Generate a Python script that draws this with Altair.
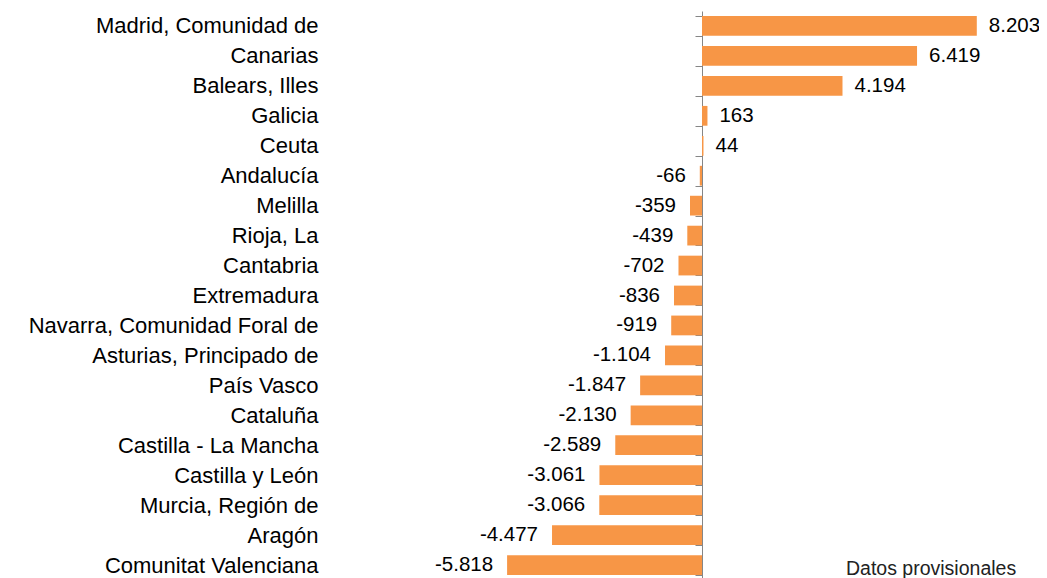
import altair as alt
import pandas as pd

regions = [
    "Madrid, Comunidad de", "Canarias", "Balears, Illes", "Galicia", "Ceuta",
    "Andalucía", "Melilla", "Rioja, La", "Cantabria", "Extremadura",
    "Navarra, Comunidad Foral de", "Asturias, Principado de", "País Vasco",
    "Cataluña", "Castilla - La Mancha", "Castilla y León", "Murcia, Región de",
    "Aragón", "Comunitat Valenciana",
]
values = [8203, 6419, 4194, 163, 44, -66, -359, -439, -702, -836, -919,
          -1104, -1847, -2130, -2589, -3061, -3066, -4477, -5818]
note = "Datos provisionales"

df = pd.DataFrame({"region": regions, "value": values})
df["label"] = [f"{v:,}".replace(",", ".") for v in values]

PLOT_W = 700
PLOT_H = 569
ZERO_PX = 372
K = 0.0335
x_lo = -ZERO_PX / K
x_hi = (PLOT_W - ZERO_PX) / K
FONT = "Liberation Sans"
ORANGE = "#F79646"
GREY = "#868686"
FS = 22
VFS = 20.5

x = alt.X("value:Q", scale=alt.Scale(domain=[x_lo, x_hi], nice=False, zero=False), axis=None)
y = alt.Y(
    "region:N",
    sort=regions,
    scale=alt.Scale(paddingInner=0.34, paddingOuter=0.17),
    axis=alt.Axis(
        orient="left", offset=-ZERO_PX, title=None,
        domain=True, domainColor=GREY, domainWidth=1,
        ticks=True, tickBand="extent", tickSize=7, tickColor=GREY, tickWidth=1,
        labelPadding=377, labelFontSize=FS, labelFont=FONT, labelColor="black",
        labelLimit=0, grid=False,
    ),
)

bars = alt.Chart(df).mark_bar(color=ORANGE).encode(x=x, y=y, x2=alt.datum(0))

pos = alt.Chart(df).transform_filter("datum.value >= 0").mark_text(
    align="left", baseline="middle", dx=12, fontSize=VFS, font=FONT, color="black"
).encode(x=x, y=alt.Y("region:N", sort=regions), text="label:N")

neg = alt.Chart(df).transform_filter("datum.value < 0").mark_text(
    align="right", baseline="middle", dx=-14, fontSize=VFS, font=FONT, color="black"
).encode(x=x, y=alt.Y("region:N", sort=regions), text="label:N")

note_layer = alt.Chart(pd.DataFrame({"t": [note]})).mark_text(
    align="left", baseline="alphabetic", fontSize=19.5, font=FONT, color="#222222"
).encode(x=alt.value(516), y=alt.value(564), text="t:N")

chart = alt.layer(bars, pos, neg, note_layer).properties(
    width=PLOT_W, height=PLOT_H,
    autosize=alt.AutoSizeParams(type="none"),
    padding={"left": 322, "top": 3, "right": 9, "bottom": 0},
).configure_view(stroke=None)

chart.save("out.html", embed_options={"renderer": "svg", "actions": False})
